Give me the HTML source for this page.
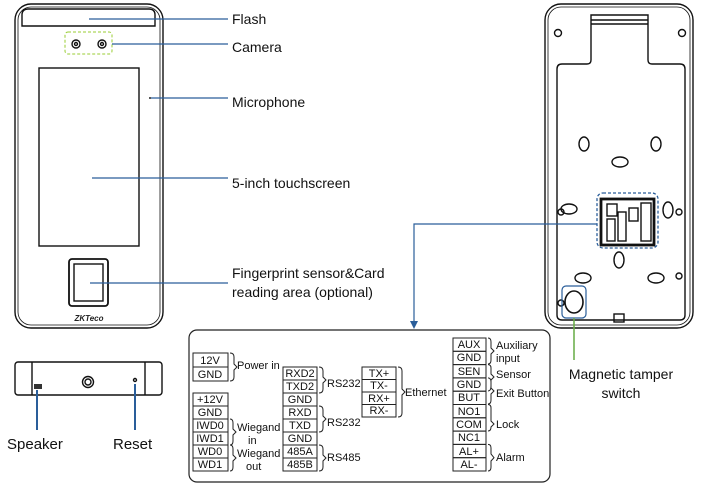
<!DOCTYPE html>
<html><head><meta charset="utf-8"><style>
html,body{margin:0;padding:0;background:#fff;}
svg{display:block;font-family:"Liberation Sans",sans-serif;}
.t{font-size:14px;fill:#111;}
.s{font-size:11px;fill:#111;}
.c{font-size:11px;fill:#111;text-anchor:middle;}
</style></head><body>
<svg width="702" height="488" viewBox="0 0 702 488" xmlns="http://www.w3.org/2000/svg">
<g fill="none" stroke="#111" stroke-width="1.4">
<rect x="15" y="4" width="148" height="324" rx="16"/>
<rect x="18" y="7" width="142" height="318" rx="13" stroke-width="0.8"/>
<path d="M22 26 V15 Q22 9 28 9 H149 Q155 9 155 15 V26 Z"/>
<rect x="39" y="68" width="100" height="178"/>
<rect x="69" y="259" width="39" height="47" rx="3" stroke-width="1.8"/>
<rect x="74" y="264" width="29" height="37"/>
<circle cx="76" cy="44" r="4"/><circle cx="76" cy="44" r="1.5"/>
<circle cx="102" cy="44" r="4"/><circle cx="102" cy="44" r="1.5"/>
</g>
<rect x="65" y="32" width="47" height="22" rx="3" fill="none" stroke="#9c3" stroke-dasharray="3,2"/>
<circle cx="150" cy="98" r="1" fill="#222"/>
<text x="89" y="321" font-size="8" font-style="italic" font-weight="bold" text-anchor="middle" fill="#222">ZKTeco</text>
<g stroke="#2a5e9a" stroke-width="1.2">
<line x1="89" y1="19" x2="228" y2="19"/>
<line x1="112" y1="44" x2="228" y2="44"/>
<line x1="151" y1="98" x2="228" y2="98"/>
<line x1="92" y1="178" x2="228" y2="178"/>
<line x1="90" y1="283" x2="228" y2="283"/>
</g>
<text class="t" x="232" y="24">Flash</text>
<text class="t" x="232" y="52">Camera</text>
<text class="t" x="232" y="107">Microphone</text>
<text class="t" x="232" y="188">5-inch touchscreen</text>
<text class="t" x="232" y="278">Fingerprint sensor&amp;Card</text>
<text class="t" x="232" y="297">reading area (optional)</text>

<g fill="none" stroke="#111" stroke-width="1.4">
<rect x="545" y="4" width="148" height="324" rx="16"/>
<rect x="548" y="7" width="142" height="318" rx="13" stroke-width="0.8"/>
<path d="M591 15 H648 V60 Q648 64 652 64 H680 Q685 64 685 69 V315 Q685 320 680 320 H562 Q557 320 557 315 V69 Q557 64 562 64 H587 Q591 64 591 60 Z"/>
<line x1="591" y1="20" x2="648" y2="20"/><line x1="591" y1="24" x2="648" y2="24"/>
<circle cx="558" cy="33" r="3.5"/><circle cx="682" cy="33" r="3.5"/>
<circle cx="561" cy="212" r="3"/><circle cx="679" cy="212" r="3"/>
<circle cx="679" cy="276" r="3"/><circle cx="561" cy="303" r="3"/>
<ellipse cx="584" cy="144" rx="5" ry="7"/><ellipse cx="656" cy="144" rx="5" ry="7"/>
<ellipse cx="620" cy="162" rx="8" ry="5"/>
<ellipse cx="569" cy="209" rx="8" ry="5"/><ellipse cx="668" cy="210" rx="5" ry="8"/>
<ellipse cx="619" cy="260" rx="5" ry="8"/>
<ellipse cx="583" cy="278" rx="8" ry="5"/><ellipse cx="656" cy="278" rx="8" ry="5"/>
<rect x="614" y="314" width="10" height="8"/>
<rect x="601" y="199" width="53" height="46" stroke-width="2.8"/>
<rect x="607" y="204" width="10" height="12"/><rect x="607" y="219" width="8" height="22"/>
<rect x="618" y="212" width="8" height="29"/><rect x="629" y="208" width="9" height="13"/>
<rect x="641" y="203" width="10" height="38"/>
</g>
<ellipse cx="574" cy="302" rx="9" ry="11" fill="none" stroke="#111" stroke-width="1.6"/>
<rect x="597" y="193" width="61" height="55" rx="6" fill="none" stroke="#2a5e9a" stroke-dasharray="3,2" stroke-width="1.3"/>
<rect x="562" y="286" width="24" height="32" rx="4" fill="none" stroke="#2a5e9a" stroke-width="1.2"/>
<line x1="574" y1="318" x2="574" y2="360" stroke="#6a4" stroke-width="1.5"/>
<text class="t" x="621" y="379" text-anchor="middle">Magnetic tamper</text>
<text class="t" x="621" y="398" text-anchor="middle">switch</text>
<polyline points="597,224 414,224 414,323" fill="none" stroke="#2a5e9a" stroke-width="1.2"/>
<polygon points="410,321 418,321 414,329" fill="#2a5e9a"/>

<g fill="none" stroke="#111" stroke-width="1.4">
<rect x="15" y="362" width="147" height="33" rx="3"/>
<line x1="32" y1="362" x2="32" y2="395"/><line x1="145" y1="362" x2="145" y2="395"/>
<circle cx="88" cy="382" r="5.5"/><circle cx="88" cy="382" r="3"/>
<circle cx="135" cy="380" r="1.5"/>
</g>
<rect x="34" y="384" width="8" height="5" fill="#333"/>
<g stroke="#2a5e9a" stroke-width="2"><line x1="37" y1="390" x2="37" y2="430"/><line x1="135" y1="384" x2="135" y2="430"/></g>
<text x="7" y="449" font-size="15" fill="#111">Speaker</text>
<text x="113" y="449" font-size="15" fill="#111">Reset</text>

<rect x="189" y="330" width="361" height="152" rx="8" fill="none" stroke="#222" stroke-width="1.2"/>
<g fill="none" stroke="#222" stroke-width="1">
<rect x="193" y="353" width="35" height="14"/><rect x="193" y="367" width="35" height="14"/>
<rect x="193" y="393" width="35" height="13"/><rect x="193" y="406" width="35" height="13"/><rect x="193" y="419" width="35" height="13"/><rect x="193" y="432" width="35" height="13"/><rect x="193" y="445" width="35" height="13"/><rect x="193" y="458" width="35" height="13"/>
<rect x="283" y="367" width="34" height="13"/><rect x="283" y="380" width="34" height="13"/><rect x="283" y="393" width="34" height="13"/><rect x="283" y="406" width="34" height="13"/><rect x="283" y="419" width="34" height="13"/><rect x="283" y="432" width="34" height="13"/><rect x="283" y="445" width="34" height="13"/><rect x="283" y="458" width="34" height="13"/>
<rect x="362" y="367" width="34" height="12.5"/><rect x="362" y="379.5" width="34" height="12.5"/><rect x="362" y="392" width="34" height="12.5"/><rect x="362" y="404.5" width="34" height="12.5"/>
<rect x="453" y="338" width="33" height="13.3"/><rect x="453" y="351.3" width="33" height="13.3"/><rect x="453" y="364.6" width="33" height="13.3"/><rect x="453" y="377.9" width="33" height="13.3"/><rect x="453" y="391.2" width="33" height="13.3"/><rect x="453" y="404.5" width="33" height="13.3"/><rect x="453" y="417.8" width="33" height="13.3"/><rect x="453" y="431.1" width="33" height="13.3"/><rect x="453" y="444.4" width="33" height="13.3"/><rect x="453" y="457.7" width="33" height="13.3"/>
<path d="M230 353 Q234 353 234 357 V364 L237 367 L234 370 V377 Q234 381 230 381"/>
<path d="M230 419 Q233 419 233 423 V429 L236 432 L233 435 V441 Q233 445 230 445"/>
<path d="M230 445 Q233 445 233 449 V455 L236 458 L233 461 V467 Q233 471 230 471"/>
<path d="M319 367 Q323 367 323 371 V377 L326 380 L323 383 V389 Q323 393 319 393"/>
<path d="M319 406 Q323 406 323 410 V416 L326 419 L323 422 V428 Q323 432 319 432"/>
<path d="M319 445 Q323 445 323 449 V455 L326 458 L323 461 V467 Q323 471 319 471"/>
<path d="M398 367 Q402 367 402 371 V389 L405 392 L402 395 V413 Q402 417 398 417"/>
<path d="M488 338 Q491 338 491 342 V348 L494 351 L491 354 V360 Q491 364 488 364"/>
<path d="M488 364.6 Q491 364.6 491 368 V374 L494 377 L491 380 V386 Q491 391 488 391"/>
<path d="M488 377.9 Q491 378 491 382 V388 L494 391 L491 394 V400 Q491 404 488 404"/>
<path d="M488 404.5 Q491 404.5 491 408 V421 L494 424 L491 427 V427 Q491 431 488 431"/>
<path d="M488 444.4 Q491 444.4 491 448 V454 L494 457.7 L491 461 V467 Q491 471 488 471"/>
</g>
<g class="c">
<text class="c" x="210" y="364">12V</text><text class="c" x="210" y="378">GND</text>
<text class="c" x="210" y="403">+12V</text><text class="c" x="210" y="416">GND</text><text class="c" x="210" y="429">IWD0</text><text class="c" x="210" y="442">IWD1</text><text class="c" x="210" y="455">WD0</text><text class="c" x="210" y="468">WD1</text>
<text class="c" x="300" y="377">RXD2</text><text class="c" x="300" y="390">TXD2</text><text class="c" x="300" y="403">GND</text><text class="c" x="300" y="416">RXD</text><text class="c" x="300" y="429">TXD</text><text class="c" x="300" y="442">GND</text><text class="c" x="300" y="455">485A</text><text class="c" x="300" y="468">485B</text>
<text class="c" x="379" y="377">TX+</text><text class="c" x="379" y="389">TX-</text><text class="c" x="379" y="402">RX+</text><text class="c" x="379" y="414">RX-</text>
<text class="c" x="469" y="348">AUX</text><text class="c" x="469" y="361">GND</text><text class="c" x="469" y="375">SEN</text><text class="c" x="469" y="388">GND</text><text class="c" x="469" y="401">BUT</text><text class="c" x="469" y="415">NO1</text><text class="c" x="469" y="428">COM</text><text class="c" x="469" y="441">NC1</text><text class="c" x="469" y="455">AL+</text><text class="c" x="469" y="468">AL-</text>
</g>
<text class="s" x="237" y="369">Power in</text>
<text class="s" x="237" y="431">Wiegand</text><text class="s" x="248" y="444">in</text>
<text class="s" x="237" y="457">Wiegand</text><text class="s" x="246" y="470">out</text>
<text class="s" x="327" y="387">RS232</text><text class="s" x="327" y="426">RS232</text><text class="s" x="327" y="461">RS485</text>
<text class="s" x="405" y="396">Ethernet</text>
<text class="s" x="496" y="349">Auxiliary</text><text class="s" x="496" y="362">input</text>
<text class="s" x="496" y="378">Sensor</text><text class="s" x="496" y="397">Exit Button</text>
<text class="s" x="496" y="428">Lock</text><text class="s" x="496" y="461">Alarm</text>
</svg>
</body></html>
